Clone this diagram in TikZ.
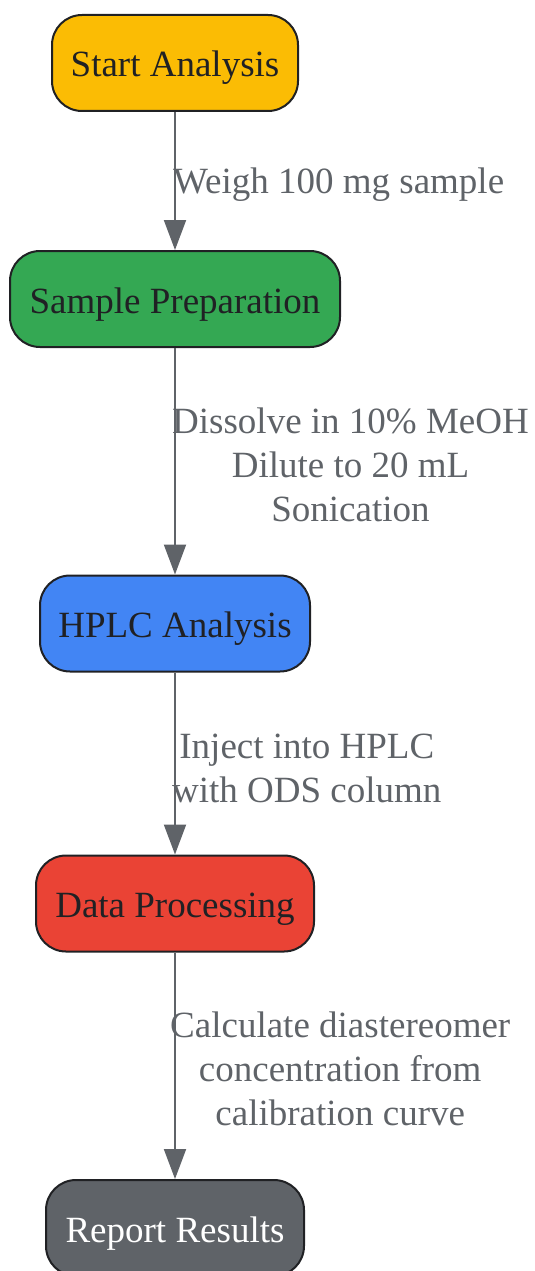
\documentclass[tikz,border=0pt]{standalone}
\usepackage{fontspec}
\setmainfont{Liberation Serif}
\usetikzlibrary{arrows.meta}
\definecolor{cyellow}{HTML}{FBBC04}
\definecolor{cgreen}{HTML}{34A853}
\definecolor{cblue}{HTML}{4285F4}
\definecolor{cred}{HTML}{EA4335}
\definecolor{cgray}{HTML}{5F6368}
\definecolor{cdark}{HTML}{202124}
\tikzset{
  stepbox/.style={draw=cdark, line width=2pt, rounded corners=30pt, minimum height=96pt,
    inner sep=0pt, text height=30pt, text depth=2pt, font=\fontsize{37}{44}\selectfont, text=cdark},
  flow/.style={draw=cgray, line width=2pt, -{Triangle[length=30pt,width=22pt]}},
  elabel/.style={anchor=west, align=center, text=cgray, font=\fontsize{37}{44}\selectfont, inner sep=0pt}
}
\begin{document}
\begin{tikzpicture}[x=1pt,y=-1pt]
\useasboundingbox (0,0) rectangle (535,1271);
\node[stepbox, fill=cyellow, minimum width=246pt] (start) at (175,63) {Start Analysis};
\node[stepbox, fill=cgreen, minimum width=330pt] (prep) at (175,299) {Sample Preparation};
\node[stepbox, fill=cblue, minimum width=270pt] (hplc) at (175,623.5) {HPLC Analysis};
\node[stepbox, fill=cred, minimum width=278pt] (data) at (175,903.5) {Data Processing};
\node[stepbox, fill=cgray, minimum width=258pt, text=white] (report) at (175,1228) {Report Results};
\draw[flow] (start) -- (prep);
\draw[flow] (prep) -- (hplc);
\draw[flow] (hplc) -- (data);
\draw[flow] (data) -- (report);
\node[elabel] (l1) at (173,185) {Weigh 100 mg sample};
\node[elabel] (l2) at (172,465) {Dissolve in 10\% MeOH\\Dilute to 20 mL\\Sonication};
\node[elabel] (l3) at (172,768) {Inject into HPLC\\with ODS column};
\node[elabel] (l4) at (170,1069) {Calculate diastereomer\\concentration from\\calibration curve};
\end{tikzpicture}
\end{document}
